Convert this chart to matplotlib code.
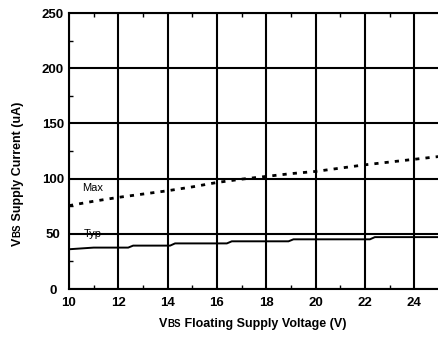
import numpy as np
import matplotlib
matplotlib.use("Agg")
import matplotlib.pyplot as plt
from matplotlib.ticker import MultipleLocator

plt.rcParams['font.family'] = ['Liberation Sans', 'DejaVu Sans']

# data
vbs_max = [10, 11, 12, 13, 14, 15, 16, 17, 18, 19, 20, 21, 22, 23, 24, 25]
i_max = [75.5, 79.5, 83, 86, 89, 92.5, 96.5, 99.5, 102, 104.5, 106.5, 109.5, 112.5, 115, 117.5, 120]

vbs_typ = [10, 11, 12.4, 12.6, 14.1, 14.3, 16.4, 16.6, 18.9, 19.1, 22.2, 22.4, 25]
i_typ = [36, 37.5, 37.5, 39.3, 39.3, 41.3, 41.3, 43.2, 43.2, 45, 45, 47, 47]

x_ticks = [10, 12, 14, 16, 18, 20, 22, 24]
y_ticks = [0, 50, 100, 150, 200, 250]

fig = plt.figure(figsize=(4.39, 3.38), dpi=100)
ax = fig.add_axes([69 / 439, 49 / 338, 1 - 69 / 439, 276 / 338])

ax.plot(vbs_max, i_max, color='black', lw=2, linestyle=(0, (1.5, 2.2)))
ax.plot(vbs_typ, i_typ, color='black', lw=1.4)

ax.set_xlim(10, 25)
ax.set_ylim(0, 250)
ax.set_xticks(x_ticks)
ax.set_yticks(y_ticks)
ax.xaxis.set_minor_locator(MultipleLocator(1))
ax.yaxis.set_minor_locator(MultipleLocator(25))
ax.grid(True, which='major', color='black', lw=1.5)
ax.tick_params(which='major', length=0, labelsize=9.5)
ax.tick_params(axis='x', which='major', pad=6)
ax.tick_params(axis='y', which='major', pad=11.5)
ax.tick_params(which='minor', direction='in', length=3, width=1, top=True)
for lab in ax.get_xticklabels() + ax.get_yticklabels():
    lab.set_fontweight('bold')
for lab in ax.get_yticklabels():
    lab.set_horizontalalignment('center')
for s in ['left', 'bottom', 'top']:
    ax.spines[s].set_linewidth(1.5)
ax.spines['right'].set_visible(False)

ax.text(10.55, 91.5, 'Max', fontsize=8, va='center', ha='left')
ax.text(10.6, 49.5, 'Typ', fontsize=8, va='center', ha='left')


def label_parts(parts, x, y, rotation):
    # draw text pieces one after another so "BS" can be smaller than "V"
    fig.canvas.draw()
    r = fig.canvas.get_renderer()
    texts = []
    for s, size in parts:
        t = fig.text(0, 0, s, fontsize=size, fontweight='bold',
                     rotation=rotation, va='baseline', ha='left')
        texts.append(t)
    widths = []
    for t in texts:
        bb = t.get_window_extent(r)
        widths.append(bb.height if rotation == 90 else bb.width)
    total = sum(widths)
    pos = -total / 2
    for t, w in zip(texts, widths):
        if rotation == 90:
            t.set_position((x, (y + pos) / fig.bbox.height))
        else:
            t.set_position(((x + pos) / fig.bbox.width, y))
        pos += w


label_parts([('V', 9), ('BS', 7), (' Floating Supply Voltage (V)', 9)],
            253, 1 - 327 / 338, 0)
label_parts([('V', 9), ('BS', 7), (' Supply Current (uA)', 9)],
            12 / 439, 338 - 171, 90)

fig.savefig('out.png', dpi=100)
